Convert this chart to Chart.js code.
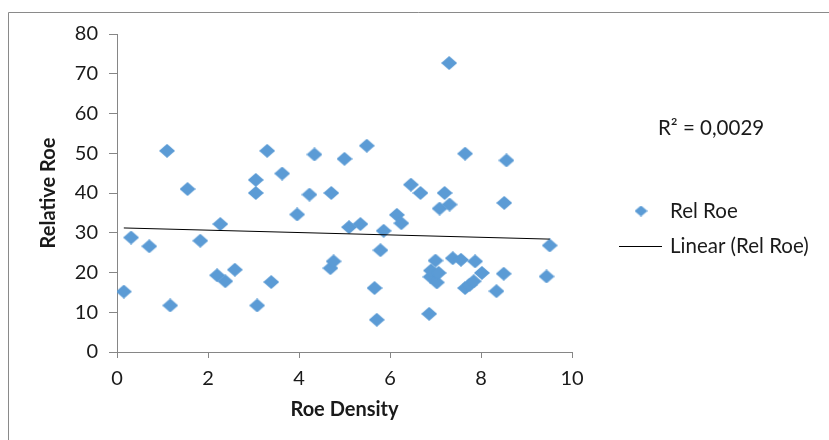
<!DOCTYPE html>
<html>
<head>
<meta charset="utf-8">
<script src="https://cdn.jsdelivr.net/npm/chart.js@4"></script>
<style>
  html, body { margin: 0; padding: 0; background: #fff; }
  canvas { display: block; }
</style>
</head>
<body>
<canvas id="roeChart" width="829" height="440"></canvas>
<script>
// Roe density vs relative roe
const roeDensity = [
  0.15, 0.31, 0.71, 1.10, 1.17, 1.55, 1.83, 2.20, 2.27, 2.38,
  2.59, 3.05, 3.05, 3.08, 3.30, 3.39, 3.63, 3.96, 4.23, 4.34,
  4.69, 4.71, 4.76, 5.00, 5.10, 5.35, 5.49, 5.66, 5.71, 5.79,
  5.86, 6.15, 6.25, 6.46, 6.67, 6.86, 6.89, 6.90, 7.00, 7.03,
  7.07, 7.09, 7.20, 7.30, 7.31, 7.38, 7.56, 7.65, 7.65, 7.75,
  7.84, 7.87, 8.02, 8.34, 8.50, 8.51, 8.56, 9.44, 9.51
];
const relRoe = [
  15.2, 28.8, 26.6, 50.6, 11.7, 41.0, 28.0, 19.3, 32.2, 17.8,
  20.7, 43.3, 40.0, 11.7, 50.6, 17.6, 44.9, 34.6, 39.6, 49.7,
  21.1, 40.0, 22.8, 48.6, 31.4, 32.2, 51.9, 16.1, 8.1, 25.6,
  30.5, 34.5, 32.4, 42.1, 40.0, 9.6, 18.9, 20.5, 23.0, 17.5,
  19.9, 36.1, 40.0, 72.7, 37.1, 23.6, 23.2, 16.1, 49.9, 16.9,
  17.8, 22.8, 19.9, 15.3, 19.7, 37.5, 48.2, 19.0, 26.8
];

// linear trendline: y = slope * x + intercept
const trendSlope = -0.30;
const trendIntercept = 31.25;
const rSquaredLabel = 'R² = 0,0029';

const seriesLabel = 'Rel Roe';
const trendLabel = 'Linear (Rel Roe)';
const xTitle = 'Roe Density';
const yTitle = 'Relative Roe';

const blue = '#5B9BD5';
const axisGray = '#868686';
const textColor = '#1a1a1a';
const fontFamily = 'Lato, "Open Sans", sans-serif';

function makeDiamond(w, h) {
  const c = document.createElement('canvas');
  c.width = w;
  c.height = h;
  const g = c.getContext('2d');
  g.fillStyle = blue;
  g.beginPath();
  g.moveTo(w / 2, 0);
  g.lineTo(w, h / 2);
  g.lineTo(w / 2, h);
  g.lineTo(0, h / 2);
  g.closePath();
  g.fill();
  return c;
}

const diamond = makeDiamond(16, 14);
const legendDiamond = makeDiamond(13, 11);

const points = roeDensity.map((x, i) => ({ x: x, y: relRoe[i] }));
const xMin = Math.min(...roeDensity);
const xMax = Math.max(...roeDensity);
const trendPoints = [
  { x: xMin, y: trendSlope * xMin + trendIntercept },
  { x: xMax, y: trendSlope * xMax + trendIntercept }
];

// frame lines, R² label and the legend on the right
const extras = {
  id: 'extras',
  afterDraw(chart) {
    const ctx = chart.ctx;
    ctx.save();
    ctx.strokeStyle = '#8a8a8a';
    ctx.lineWidth = 1;
    ctx.beginPath();
    ctx.moveTo(8.5, 440);
    ctx.lineTo(8.5, 12.5);
    ctx.lineTo(829, 12.5);
    ctx.stroke();

    ctx.fillStyle = textColor;
    ctx.font = '20.5px ' + fontFamily;
    ctx.textBaseline = 'middle';
    ctx.textAlign = 'left';
    ctx.fillText(rSquaredLabel, 658, 128);

    ctx.drawImage(legendDiamond, 641 - 6.5, 211 - 5.5);
    ctx.fillText(seriesLabel, 670, 211);

    ctx.strokeStyle = '#000';
    ctx.beginPath();
    ctx.moveTo(619, 246.5);
    ctx.lineTo(662, 246.5);
    ctx.stroke();
    ctx.fillText(trendLabel, 670, 246);
    ctx.restore();
  }
};

new Chart(document.getElementById('roeChart'), {
  type: 'scatter',
  data: {
    datasets: [
      {
        label: trendLabel,
        data: trendPoints,
        showLine: true,
        borderColor: '#000',
        borderWidth: 1,
        pointRadius: 0,
        fill: false,
        order: 0
      },
      {
        label: seriesLabel,
        data: points,
        pointStyle: diamond,
        backgroundColor: blue,
        borderWidth: 0,
        order: 1
      }
    ]
  },
  options: {
    responsive: false,
    animation: false,
    layout: { padding: { top: 34, right: 257, bottom: 0, left: 0 } },
    plugins: {
      legend: { display: false },
      tooltip: { enabled: false }
    },
    scales: {
      x: {
        type: 'linear',
        min: 0,
        max: 10,
        afterFit: (scale) => { scale.height = 88; },
        ticks: {
          stepSize: 2,
          color: textColor,
          padding: 9,
          font: { family: fontFamily, size: 20 }
        },
        grid: { drawOnChartArea: false, drawTicks: true, tickLength: 6, color: axisGray },
        border: { display: true, color: axisGray, width: 1 },
        title: {
          display: true,
          text: xTitle,
          color: textColor,
          font: { family: fontFamily, size: 20, weight: 'bold' },
          padding: { top: 0, bottom: 18 }
        }
      },
      y: {
        type: 'linear',
        min: 0,
        max: 80,
        afterFit: (scale) => { scale.width = 117; },
        ticks: {
          stepSize: 10,
          color: textColor,
          padding: 11,
          font: { family: fontFamily, size: 20 }
        },
        grid: { drawOnChartArea: false, drawTicks: true, tickLength: 8, color: axisGray },
        border: { display: true, color: axisGray, width: 1 },
        title: {
          display: true,
          text: yTitle,
          color: textColor,
          font: { family: fontFamily, size: 20, weight: 'bold' },
          padding: { top: 37, bottom: 0 }
        }
      }
    }
  },
  plugins: [extras]
});
</script>
</body>
</html>
